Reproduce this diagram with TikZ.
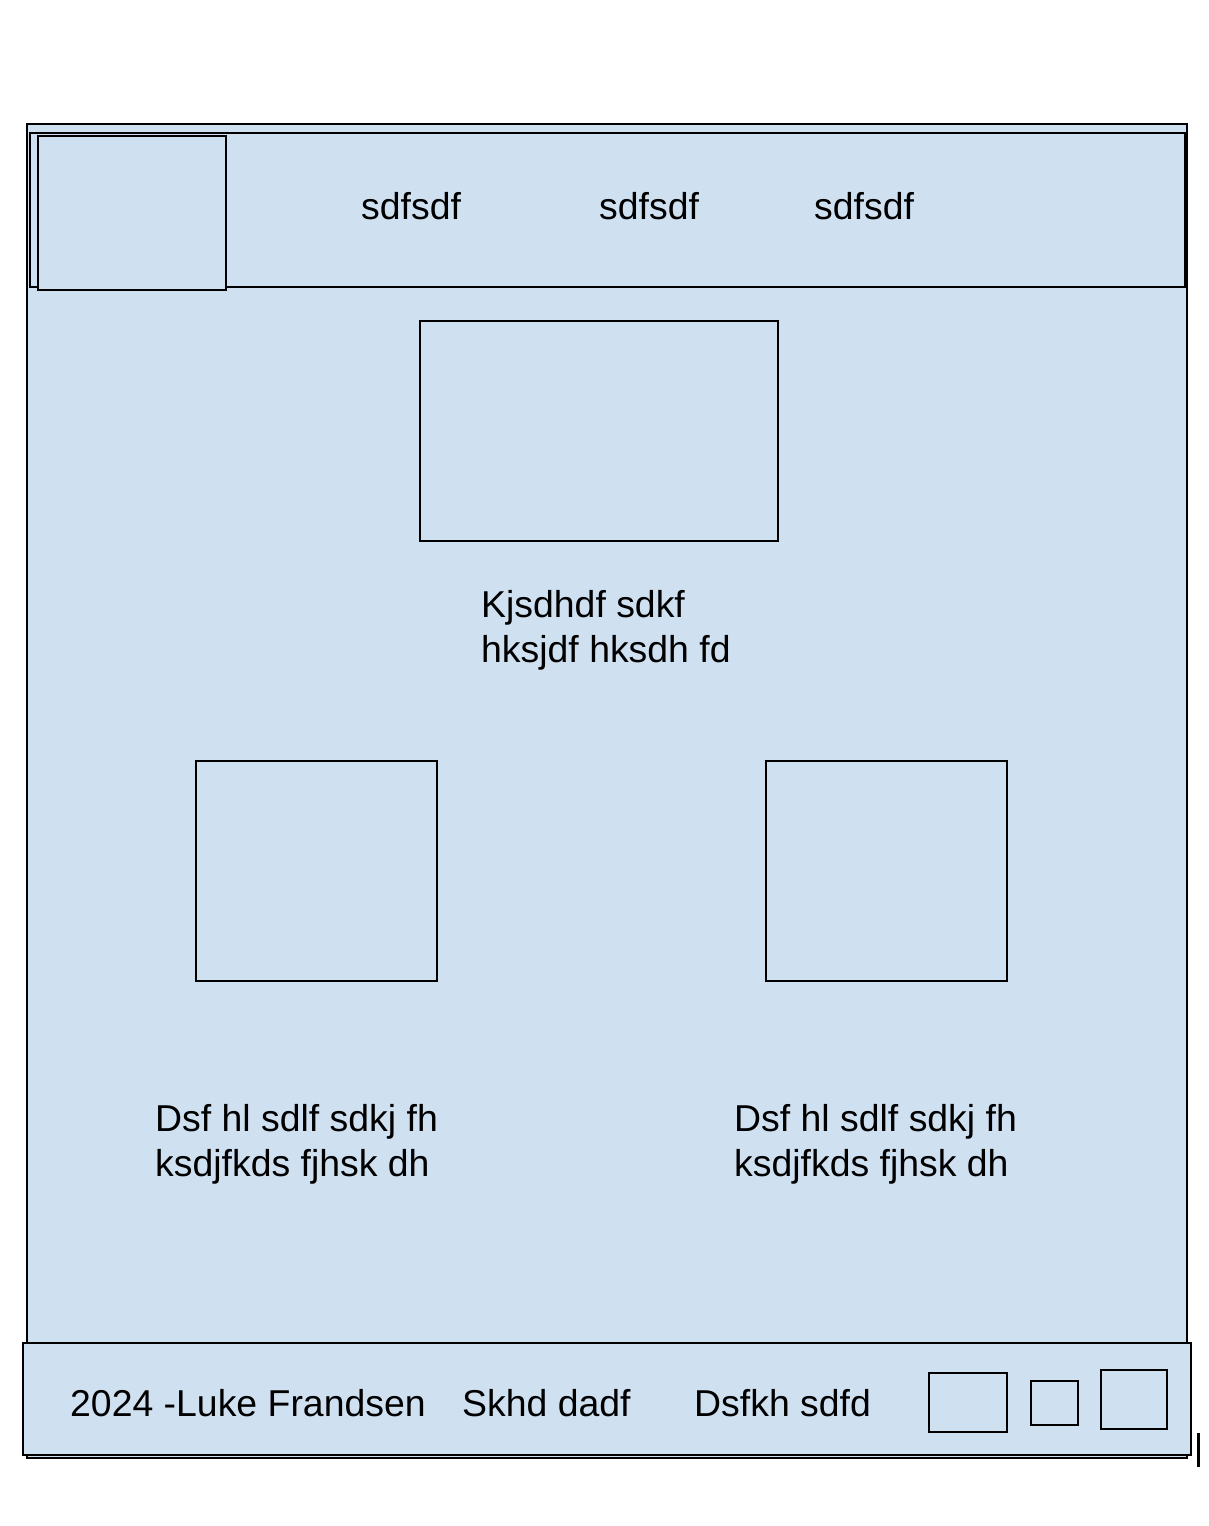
\documentclass[tikz,border=0pt]{standalone}
\usepackage{fontspec}
\setmainfont{Liberation Sans}
\definecolor{panel}{HTML}{CFE0F1}
\begin{document}
\begin{tikzpicture}[x=1pt,y=-1pt,
  box/.style={draw=black,fill=panel,line width=2pt},
  lbl/.style={anchor=base west,inner sep=0pt,font=\fontsize{37.4}{45}\selectfont,align=left}]
\useasboundingbox (0,0) rectangle (1208,1526);
% page frame
\draw[box] (27,124) rectangle (1187,1458);
% header
\draw[box] (30,133) rectangle (1185,287);
\node[box,minimum width=188pt,minimum height=154pt,anchor=north west,inner sep=0pt] (logo) at (37,135) {};
\node[lbl] (nav1) at (361,219) {sdfsdf};
\node[lbl] (nav2) at (599,219) {sdfsdf};
\node[lbl] (nav3) at (814,219) {sdfsdf};
% content
\node[box,minimum width=358pt,minimum height=220pt,anchor=north west,inner sep=0pt] (hero) at (419,320) {};
\node[lbl] (herotext) at (481,662) {Kjsdhdf sdkf\\hksjdf hksdh fd};
\node[box,minimum width=241pt,minimum height=220pt,anchor=north west,inner sep=0pt] (imgL) at (195,760) {};
\node[box,minimum width=241pt,minimum height=220pt,anchor=north west,inner sep=0pt] (imgR) at (765,760) {};
\node[lbl] (textL) at (155,1176) {Dsf hl sdlf sdkj fh\\ksdjfkds fjhsk dh};
\node[lbl] (textR) at (734,1176) {Dsf hl sdlf sdkj fh\\ksdjfkds fjhsk dh};
% footer
\draw[box] (23,1343) rectangle (1191,1455);
\node[lbl] (copy) at (70,1416) {2024 -Luke Frandsen};
\node[lbl] (f2) at (462,1416) {Skhd dadf};
\node[lbl] (f3) at (694,1416) {Dsfkh sdfd};
\node[box,minimum width=78pt,minimum height=59pt,anchor=north west,inner sep=0pt] (ic1) at (928,1372) {};
\node[box,minimum width=47pt,minimum height=44pt,anchor=north west,inner sep=0pt] (ic2) at (1030,1380) {};
\node[box,minimum width=66pt,minimum height=59pt,anchor=north west,inner sep=0pt] (ic3) at (1100,1369) {};
% stray mark
\coordinate (m1) at (1198,1433);
\coordinate (m2) at (1198,1467);
\draw[line width=3pt] (m1) -- (m2);
\end{tikzpicture}
\end{document}
